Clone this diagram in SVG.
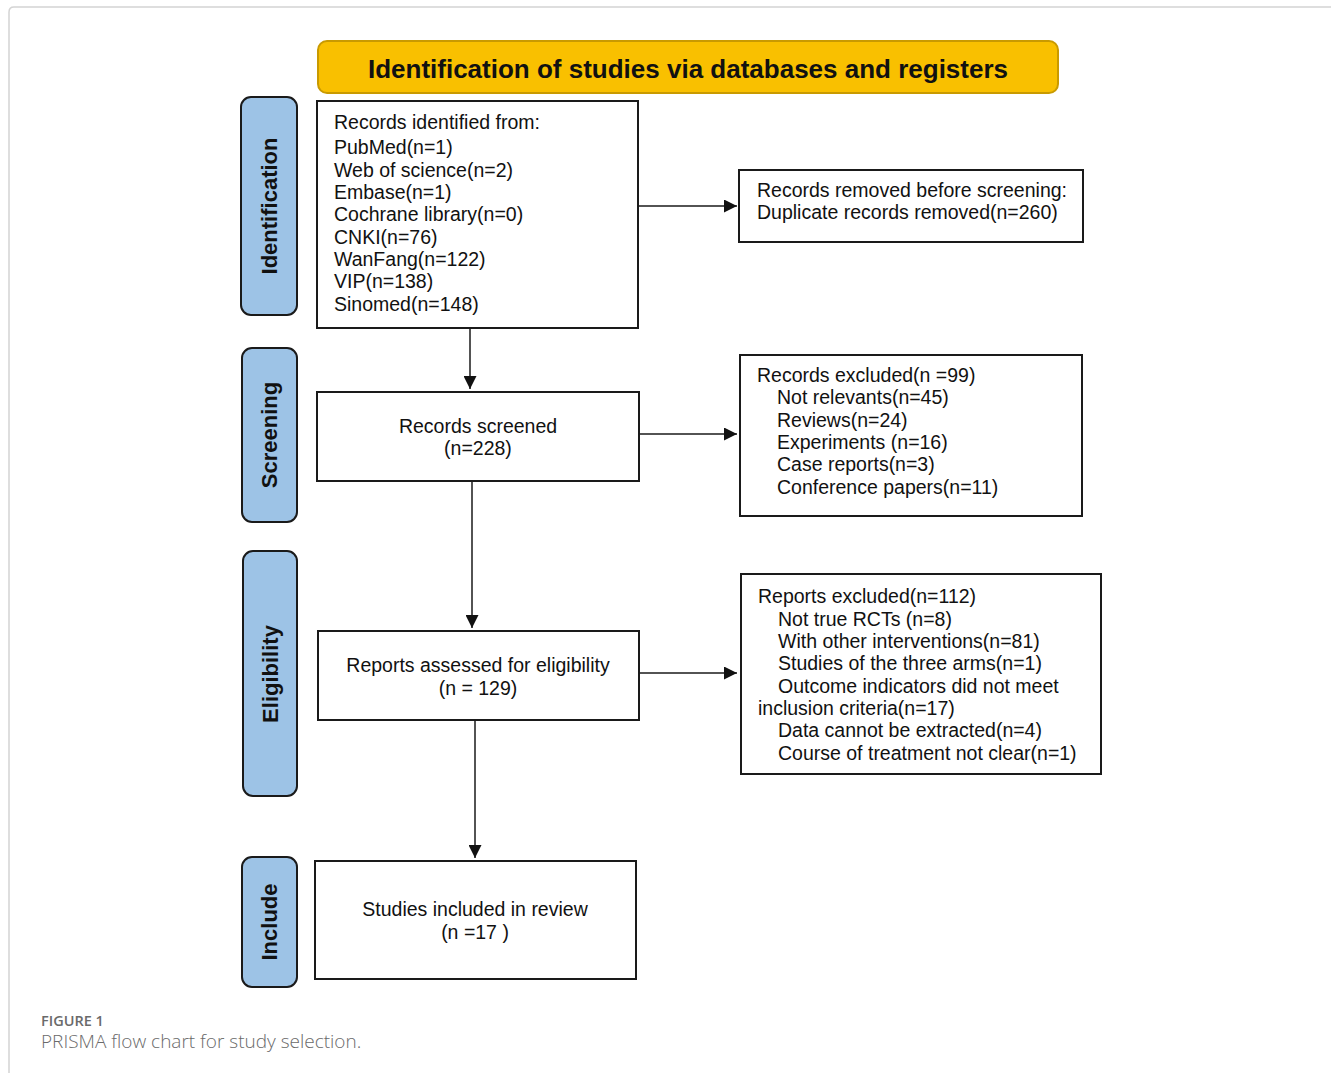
<svg xmlns="http://www.w3.org/2000/svg" width="1331" height="1073" viewBox="0 0 1331 1073">
<style>
.box{fill:#fff;stroke:#1a1a1a;stroke-width:2}
.side{fill:#9DC3E6;stroke:#1a1a1a;stroke-width:2}
.t{font-family:"Liberation Sans",Arial,sans-serif;font-size:19.5px;fill:#111}
.c{text-anchor:middle}
.st{font-family:"Liberation Sans",Arial,sans-serif;font-size:22px;font-weight:bold;fill:#111;text-anchor:middle}
.ln{stroke:#1a1a1a;stroke-width:1.5;fill:none}
</style>
<defs>
<marker id="ah" markerWidth="13" markerHeight="13" refX="13" refY="6.5" orient="auto" markerUnits="userSpaceOnUse">
<path d="M0,0 L13,6.5 L0,13 Z" fill="#111"/>
</marker>
</defs>
<rect width="1331" height="1073" fill="#fff"/>
<path d="M9,1073 V12 Q9,7 14,7 H1331" fill="none" stroke="#d4d4d4" stroke-width="1.5"/>

<g id="title">
<rect x="318" y="41" width="740" height="52" rx="9" fill="#F9C000" stroke="#C99A00" stroke-width="2"/>
<text x="688" y="78" font-family="Liberation Sans,Arial,sans-serif" font-size="26" font-weight="bold" fill="#111" text-anchor="middle">Identification of studies via databases and registers</text>
</g>

<g id="side-identification">
<rect class="side" x="241" y="97" width="56" height="218" rx="10"/>
<text class="st" transform="translate(277,206) rotate(-90)">Identification</text>
</g>
<g id="side-screening">
<rect class="side" x="242" y="348" width="55" height="174" rx="10"/>
<text class="st" transform="translate(277,435) rotate(-90)">Screening</text>
</g>
<g id="side-eligibility">
<rect class="side" x="243" y="551" width="54" height="245" rx="10"/>
<text class="st" transform="translate(278,674) rotate(-90)">Eligibility</text>
</g>
<g id="side-include">
<rect class="side" x="242" y="857" width="55" height="130" rx="10"/>
<text class="st" transform="translate(277,922) rotate(-90)">Include</text>
</g>

<g id="records-identified">
<rect class="box" x="317" y="101" width="321" height="227"/>
<text class="t" x="334" y="129">Records identified from:</text>
<text class="t" x="334" y="154">PubMed(n=1)</text>
<text class="t" x="334" y="177">Web of science(n=2)</text>
<text class="t" x="334" y="199">Embase(n=1)</text>
<text class="t" x="334" y="221">Cochrane library(n=0)</text>
<text class="t" x="334" y="244">CNKI(n=76)</text>
<text class="t" x="334" y="266">WanFang(n=122)</text>
<text class="t" x="334" y="288">VIP(n=138)</text>
<text class="t" x="334" y="311">Sinomed(n=148)</text>
</g>

<g id="records-removed">
<rect class="box" x="739" y="170" width="344" height="72"/>
<text class="t" x="757" y="197">Records removed before screening:</text>
<text class="t" x="757" y="219">Duplicate records removed(n=260)</text>
</g>

<g id="records-screened">
<rect class="box" x="317" y="392" width="322" height="89"/>
<text class="t c" x="478" y="433">Records screened</text>
<text class="t c" x="478" y="455">(n=228)</text>
</g>

<g id="records-excluded">
<rect class="box" x="740" y="355" width="342" height="161"/>
<text class="t" x="757" y="382">Records excluded(n =99)</text>
<text class="t" x="777" y="404">Not relevants(n=45)</text>
<text class="t" x="777" y="427">Reviews(n=24)</text>
<text class="t" x="777" y="449">Experiments (n=16)</text>
<text class="t" x="777" y="471">Case reports(n=3)</text>
<text class="t" x="777" y="494">Conference papers(n=11)</text>
</g>

<g id="reports-assessed">
<rect class="box" x="318" y="631" width="321" height="89"/>
<text class="t c" x="478" y="672">Reports assessed for eligibility</text>
<text class="t c" x="478" y="695">(n = 129)</text>
</g>

<g id="reports-excluded">
<rect class="box" x="741" y="574" width="360" height="200"/>
<text class="t" x="758" y="603">Reports excluded(n=112)</text>
<text class="t" x="778" y="626">Not true RCTs (n=8)</text>
<text class="t" x="778" y="648">With other interventions(n=81)</text>
<text class="t" x="778" y="670">Studies of the three arms(n=1)</text>
<text class="t" x="778" y="693">Outcome indicators did not meet</text>
<text class="t" x="758" y="715">inclusion criteria(n=17)</text>
<text class="t" x="778" y="737">Data cannot be extracted(n=4)</text>
<text class="t" x="778" y="760">Course of treatment not clear(n=1)</text>
</g>

<g id="studies-included">
<rect class="box" x="315" y="861" width="321" height="118"/>
<text class="t c" x="475" y="916">Studies included in review</text>
<text class="t c" x="475" y="939">(n =17 )</text>
</g>

<g id="connectors">
<line class="ln" x1="638" y1="206" x2="737" y2="206" marker-end="url(#ah)"/>
<line class="ln" x1="470" y1="328" x2="470" y2="389" marker-end="url(#ah)"/>
<line class="ln" x1="639" y1="434" x2="737" y2="434" marker-end="url(#ah)"/>
<line class="ln" x1="472" y1="481" x2="472" y2="628" marker-end="url(#ah)"/>
<line class="ln" x1="639" y1="673" x2="737" y2="673" marker-end="url(#ah)"/>
<line class="ln" x1="475" y1="720" x2="475" y2="858" marker-end="url(#ah)"/>
</g>

<g id="caption">
<text x="41" y="1026" font-family="Open Sans,Noto Sans,sans-serif" font-size="14.5" font-weight="600" fill="#6a6a6a">FIGURE 1</text>
<text x="41" y="1048" font-family="Open Sans,Noto Sans,sans-serif" font-size="19" font-weight="300" fill="#6a6a6a">PRISMA flow chart for study selection.</text>
</g>
</svg>
